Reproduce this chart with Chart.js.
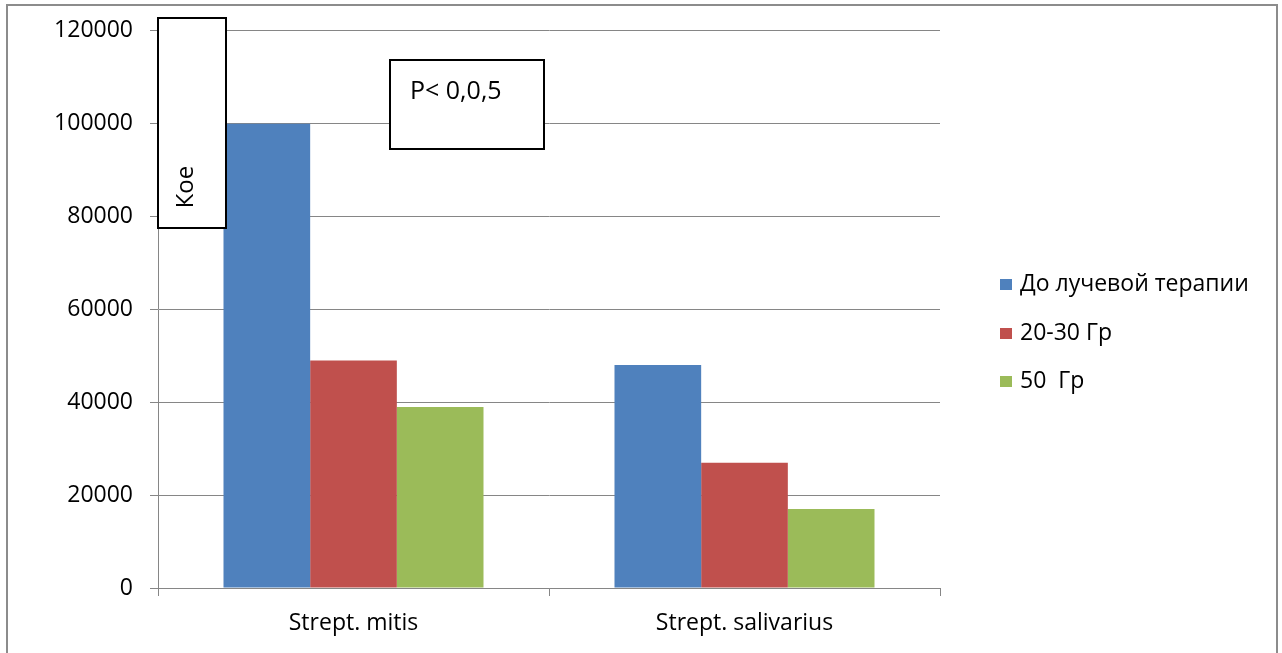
<!DOCTYPE html>
<html>
<head>
<meta charset="utf-8">
<script src="https://cdn.jsdelivr.net/npm/chart.js@4/dist/chart.umd.min.js"></script>
<style>
  html, body { margin: 0; padding: 0; background: #fff; }
  #wrap { width: 1282px; height: 653px; position: relative; }
</style>
</head>
<body>
<div id="wrap"><canvas id="c" width="1282" height="653"></canvas></div>
<script>
// Bacteria species on the x axis
const categories = ['Strept. mitis', 'Strept. salivarius'];

// Counts per stage of radiotherapy
const seriesLabels = ['До лучевой терапии', '20-30 Гр', '50  Гр'];
const beforeTherapy = [100000, 48000];
const dose20to30 = [49000, 27000];
const dose50 = [39000, 17000];

const yTicks = [0, 20000, 40000, 60000, 80000, 100000, 120000];

const colors = ['#4F81BD', '#C0504D', '#9BBB59'];
const FONT = '"Open Sans", "Noto Sans", sans-serif';

// Frame, annotation boxes and legend drawn on top of the chart
const overlay = {
  id: 'overlay',
  afterDraw(chart) {
    const ctx = chart.ctx;
    ctx.save();
    // outer frame
    ctx.strokeStyle = '#8c8c8c';
    ctx.lineWidth = 2;
    ctx.strokeRect(7, 5, 1270, 680);

    // vertical unit box
    ctx.fillStyle = '#fff';
    ctx.strokeStyle = '#000';
    ctx.lineWidth = 2;
    ctx.fillRect(158, 18, 68, 210);
    ctx.strokeRect(158, 18, 68, 210);
    ctx.save();
    ctx.translate(193, 187);
    ctx.rotate(-Math.PI / 2);
    ctx.fillStyle = '#000';
    ctx.font = '24px ' + FONT;
    ctx.textAlign = 'center';
    ctx.textBaseline = 'alphabetic';
    ctx.fillText('Кое', 0, 0);
    ctx.restore();

    // significance box
    ctx.fillStyle = '#fff';
    ctx.fillRect(390, 60, 154, 89);
    ctx.strokeRect(390, 60, 154, 89);
    ctx.fillStyle = '#000';
    ctx.font = '25px ' + FONT;
    ctx.textAlign = 'left';
    ctx.textBaseline = 'alphabetic';
    ctx.fillText('P< 0,0,5', 410, 99);

    // legend
    const ys = [284, 333, 381];
    chart.data.datasets.forEach((ds, i) => {
      ctx.fillStyle = ds.backgroundColor;
      ctx.fillRect(1000, ys[i] - 5, 12, 11);
      ctx.fillStyle = '#000';
      ctx.font = '23px ' + FONT;
      ctx.textBaseline = 'middle';
      ctx.fillText(ds.label, 1020, ys[i]);
    });
    ctx.restore();
  }
};

new Chart(document.getElementById('c'), {
  type: 'bar',
  data: {
    labels: categories,
    datasets: [
      { label: seriesLabels[0], data: beforeTherapy, backgroundColor: colors[0] },
      { label: seriesLabels[1], data: dose20to30, backgroundColor: colors[1] },
      { label: seriesLabels[2], data: dose50, backgroundColor: colors[2] }
    ]
  },
  options: {
    responsive: false,
    animation: false,
    devicePixelRatio: 1,
    layout: { padding: { left: 0, top: 30, right: 342, bottom: 0 } },
    datasets: { bar: { categoryPercentage: 0.665, barPercentage: 1.0 } },
    plugins: {
      legend: { display: false },
      tooltip: { enabled: false }
    },
    scales: {
      x: {
        grid: { drawOnChartArea: false, offset: true, color: '#868686', tickLength: 8 },
        border: { color: '#868686', width: 1 },
        ticks: { color: '#000', font: { family: FONT, size: 23 }, padding: 14 },
        afterFit(s) { s.height = 65; }
      },
      y: {
        min: 0,
        max: 120000,
        afterBuildTicks(s) { s.ticks = yTicks.map(v => ({ value: v })); },
        grid: { color: '#868686', tickLength: 8 },
        border: { color: '#868686', width: 1 },
        ticks: {
          color: '#000',
          font: { family: FONT, size: 23 },
          padding: 17,
          callback: v => String(v)
        },
        afterFit(s) { s.width = 158; }
      }
    }
  },
  plugins: [overlay]
});
</script>
</body>
</html>
